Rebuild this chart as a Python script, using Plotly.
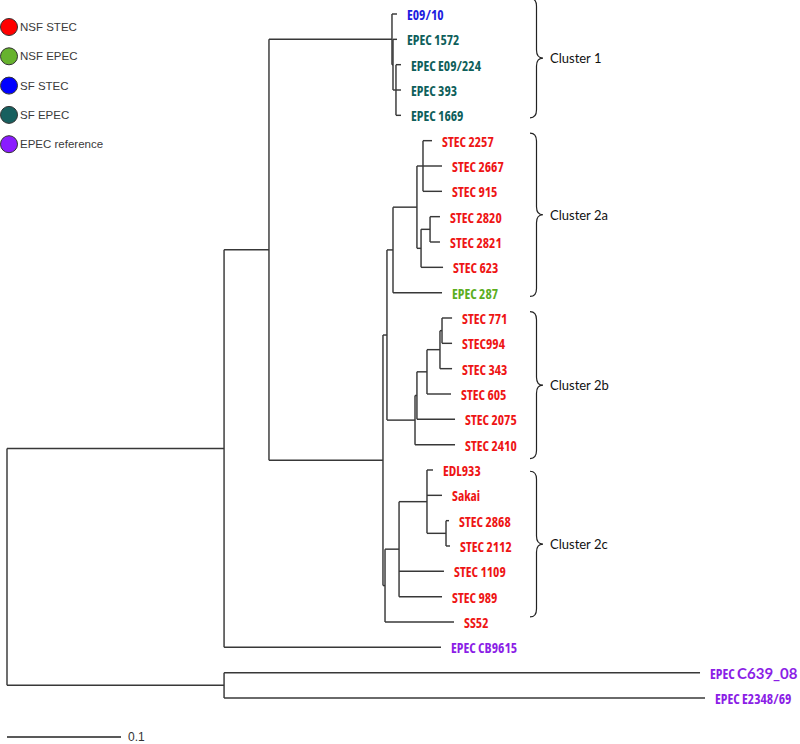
import plotly.graph_objects as go

# ---------------- data (tree) ----------------
# internal nodes: name, parent, depth (substitutions/site from root)
node_names = ["root", "A", "O", "B", "C1", "C1b", "C1c", "D", "P", "Y", "V", "U", "W", "X",
              "Q", "Q1", "R", "S", "T", "CC", "BB", "Z", "AA"]
node_parent = [None, "root", "root", "A", "B", "C1", "C1b", "B", "D", "P", "Y", "V", "V", "W",
               "P", "Q", "Q1", "R", "S", "D", "CC", "BB", "Z"]
node_depth = [0.0, 0.1904, 0.1904, 0.2298, 0.3377, 0.3386, 0.3412, 0.3298, 0.3333, 0.3386,
              0.3596, 0.3649, 0.3632, 0.3711, 0.3579, 0.3596, 0.3684, 0.3798, 0.3816,
              0.3316, 0.3439, 0.3684, 0.3851]

# leaves in display order (top to bottom)
leaf_labels = ["E09/10", "EPEC 1572", "EPEC E09/224", "EPEC 393", "EPEC 1669",
               "STEC 2257", "STEC 2667", "STEC 915", "STEC 2820", "STEC 2821", "STEC 623",
               "EPEC 287",
               "STEC 771", "STEC994", "STEC 343", "STEC 605", "STEC 2075", "STEC 2410",
               "EDL933", "Sakai", "STEC 2868", "STEC 2112", "STEC 1109", "STEC 989",
               "SS52", "EPEC CB9615", "EPEC C639_08", "EPEC E2348/69"]
leaf_parent = ["C1", "C1b", "C1c", "C1c", "C1c",
               "U", "U", "U", "X", "X", "W",
               "Y",
               "T", "T", "S", "R", "Q1", "Q",
               "Z", "Z", "AA", "AA", "BB", "BB",
               "CC", "A", "O", "O"]
leaf_depth = [0.3421, 0.3421, 0.3456, 0.3456, 0.3456,
              0.3728, 0.3816, 0.3816, 0.3798, 0.3798, 0.3825,
              0.3816,
              0.3904, 0.3904, 0.3904, 0.3895, 0.3930, 0.3930,
              0.3737, 0.3816, 0.3877, 0.3886, 0.3833, 0.3816,
              0.3921, 0.3807, 0.6079, 0.6123]
leaf_group = ["SF STEC", "SF EPEC", "SF EPEC", "SF EPEC", "SF EPEC",
              "NSF STEC", "NSF STEC", "NSF STEC", "NSF STEC", "NSF STEC", "NSF STEC",
              "NSF EPEC",
              "NSF STEC", "NSF STEC", "NSF STEC", "NSF STEC", "NSF STEC", "NSF STEC",
              "NSF STEC", "NSF STEC", "NSF STEC", "NSF STEC", "NSF STEC", "NSF STEC",
              "NSF STEC", "EPEC reference", "EPEC reference", "EPEC reference"]

legend_labels = ["NSF STEC", "NSF EPEC", "SF STEC", "SF EPEC", "EPEC reference"]
legend_colors = ["#ff0000", "#66b22e", "#0000ff", "#17605f", "#8a1cff"]
text_colors = {"NSF STEC": "#ee1515", "NSF EPEC": "#5cae1f", "SF STEC": "#1d1de0",
               "SF EPEC": "#0f5f5b", "EPEC reference": "#8b1ee6"}

cluster_names = ["Cluster 1", "Cluster 2a", "Cluster 2b", "Cluster 2c"]
cluster_top = [-0.62, 4.70, 11.75, 18.05]      # in leaf-row units
cluster_bottom = [4.10, 11.15, 17.55, 23.80]

scale_value = 0.1

# ---------------- geometry helpers ----------------
W, H = 800, 744
X0_PX, PX_PER_UNIT = 7.0, 1140.0
Y0_PX, ROW_PX = 14.0, 25.333


def px_x(px):
    return (px - X0_PX) / PX_PER_UNIT


def px_y(py):
    return (py - Y0_PX) / ROW_PX


depth = dict(zip(node_names, node_depth))
parent = dict(zip(node_names, node_parent))
children = {n: [] for n in node_names}
for n, p in zip(node_names, node_parent):
    if p is not None:
        children[p].append(("node", n))
for i, p in enumerate(leaf_parent):
    children[p].append(("leaf", i))

ycache = {}


def ypos(kind, key):
    if kind == "leaf":
        return float(key)
    if key in ycache:
        return ycache[key]
    ys = [ypos(k, c) for k, c in children[key]]
    y = (min(ys) + max(ys)) / 2.0
    ycache[key] = y
    return y


xs, ys = [], []
# horizontal branches
for n in node_names:
    p = parent[n]
    if p is None:
        continue
    y = ypos("node", n)
    xs += [depth[p], depth[n], None]
    ys += [y, y, None]
for i, p in enumerate(leaf_parent):
    xs += [depth[p], leaf_depth[i], None]
    ys += [i, i, None]
# vertical connectors
for n in node_names:
    cy = [ypos(k, c) for k, c in children[n]]
    xs += [depth[n], depth[n], None]
    ys += [min(cy), max(cy), None]

fig = go.Figure()
fig.add_trace(go.Scatter(x=xs, y=ys, mode="lines",
                         line=dict(color="#383838", width=1.45),
                         hoverinfo="skip", showlegend=False))

# scale bar
sb_y = px_y(737)
fig.add_trace(go.Scatter(x=[0, scale_value], y=[sb_y, sb_y], mode="lines",
                         line=dict(color="#222222", width=1.4),
                         hoverinfo="skip", showlegend=False))

annotations = []
leaf_font = "Open Sans, Liberation Sans, sans-serif"
for i, lab in enumerate(leaf_labels):
    if lab == "EPEC C639_08":
        txt = ("<span style='font-stretch:semi-condensed'>EPEC </span>"
               "<span style='font-family:Lato;font-size:15px'>C639_08</span>")
    else:
        txt = f"<span style='font-stretch:semi-condensed'>{lab}</span>"
    annotations.append(dict(x=leaf_depth[i], y=i, xref="x", yref="y", text=txt,
                            showarrow=False, xanchor="left", yanchor="middle",
                            xshift=8, yshift=-1,
                            font=dict(family=leaf_font, size=13.5, weight="bold",
                                      color=text_colors[leaf_group[i]])))

annotations.append(dict(x=scale_value, y=sb_y, xref="x", yref="y", text="0.1",
                        showarrow=False, xanchor="left", yanchor="middle", xshift=5,
                        font=dict(family="Liberation Sans, Arial, sans-serif", size=12,
                                  color="#333333")))

# legend (circles + text)
lg_x = [px_x(9)] * len(legend_labels)
lg_y = [px_y(27 + 29.3 * i) for i in range(len(legend_labels))]
fig.add_trace(go.Scatter(x=lg_x, y=lg_y, mode="markers",
                         marker=dict(size=17, color=legend_colors,
                                     line=dict(color="#333333", width=1)),
                         hoverinfo="skip", showlegend=False))
for i, lab in enumerate(legend_labels):
    annotations.append(dict(x=px_x(18), y=lg_y[i], xref="x", yref="y", text=lab,
                            showarrow=False, xanchor="left", yanchor="middle",
                            font=dict(family="Liberation Sans, Arial, sans-serif", size=11.5,
                                      color="#3a3a3a")))

# cluster braces
shapes = []
xe, xs_, xt = px_x(530), px_x(536.5), px_x(543)
r = 8.0 / ROW_PX
for name, t, b in zip(cluster_names, cluster_top, cluster_bottom):
    m = (t + b) / 2.0
    path = (f"M {xe},{t} Q {xs_},{t} {xs_},{t + r} L {xs_},{m - r} "
            f"Q {xs_},{m} {xt},{m} Q {xs_},{m} {xs_},{m + r} "
            f"L {xs_},{b - r} Q {xs_},{b} {xe},{b}")
    shapes.append(dict(type="path", path=path, xref="x", yref="y",
                       line=dict(color="#222222", width=1.2)))
    annotations.append(dict(x=xt, y=m, xref="x", yref="y", text=name, showarrow=False,
                            xanchor="left", yanchor="middle", xshift=5,
                            font=dict(family="Lato, Open Sans, sans-serif", size=13,
                                      color="#111111")))

fig.update_layout(
    width=W, height=H,
    margin=dict(l=0, r=0, t=0, b=0),
    paper_bgcolor="white", plot_bgcolor="white",
    xaxis=dict(range=[px_x(0), px_x(W)], visible=False, fixedrange=True),
    yaxis=dict(range=[px_y(H), px_y(0)], visible=False, fixedrange=True),
    annotations=annotations, shapes=shapes,
    showlegend=False,
)

fig.write_html("out.html", config={"displayModeBar": False},
               post_script="document.body.style.margin='0px';document.body.style.overflow='hidden';")
